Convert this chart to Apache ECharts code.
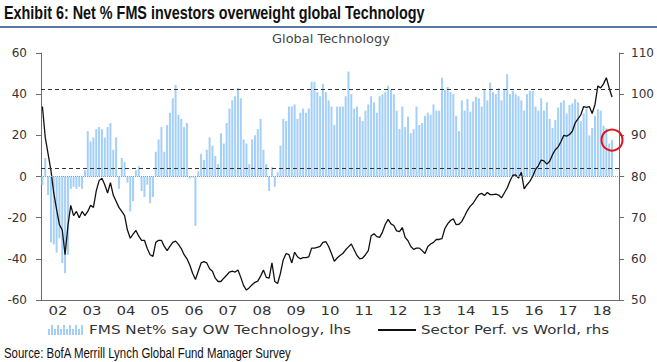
<!DOCTYPE html>
<html><head><meta charset="utf-8">
<script src="https://cdn.jsdelivr.net/npm/echarts@6/dist/echarts.min.js"></script>
<style>html,body{margin:0;padding:0;background:#fff}#c{width:657px;height:362px}</style>
</head><body><div id="c"></div>
<script>
// ---- data ----
const startYear = 2002;
const yearLabels = ['02','03','04','05','06','07','08','09','10','11','12','13','14','15','16','17','18'];
const barName = 'FMS Net% say OW Technology, lhs';
const lineName = 'Sector Perf. vs World, rhs';
// monthly FMS net % overweight (lhs), Jan-2002 onwards
const fmsNetOW = [
 -4, 9, -9, -32, -33, -37, -30, -42, -47, -38,
 -6, -5, -6, -5, -6, 3, 22, 17, 19, 23,
 24, 23, 19, 24, 26, 13, 19, -6, 9, 7,
 -3, -17, -12, 3, 5, -7, -10, -4, -13, -10,
 12, 18, 24, 12, 25, 31, 38, 44.5, 30, 28,
 24, 26, -1, -0.5, -24, 2.5, 11, 8, 13, 19,
 15, 10, 6, 21, 16, 26, 33, 37, 39, 43,
 38, 18, 16, 6, 18, 20, 23, 28, 13, 6,
 -7, 4.5, -5, 2, 15, 28, 27, 34, 34, 35,
 28, 31, 33, 31, 33, 46, 46, 41, 39, 45,
 41, 37, 34, 25, 34, 34, 34, 39, 51, 40,
 33, 34, 29, 27, 32, 35, 39, 36, 31, 39,
 40, 41, 44, 42, 40, 32, 23, 34, 24, 29,
 21, 23, 34, 25, 26, 29.5, 31, 30, 35, 32,
 32, 48, 42, 43.5, 41, 40, 29.5, 22, 37, 32,
 37.6, 31.5, 36.5, 38.7, 38, 34, 42, 37, 45.6, 41,
 40, 43, 37, 42, 49.7, 40, 41.6, 40, 39, 37,
 32, 40, 41.6, 41.6, 34, 32, 38, 32, 36, 28,
 23.5, 27.4, 33.5, 36, 37, 30.6, 34.7, 35.5, 37.6, 36,
 26.8, 30.6, 33, 20, 23.5, 29.5, 32.7, 32, 24.7, 23.4,
 16, 17.7
];
// sector relative performance vs world (rhs), monthly
const sectorPerf = [
 97, 89.5, 85.5, 81.5, 76, 72, 68.3, 67, 61, 68,
 73, 70.5, 71.5, 70, 71.5, 70.5, 71.5, 73, 72.5, 76.5,
 79, 79.6, 78, 76, 78.5, 75.5, 74, 72.5, 71.5, 70.5,
 67, 65, 66, 66.9, 65.5, 64.5, 64.5, 62.5, 61, 60.6,
 64, 64.5, 64.5, 63, 62, 63, 64, 64.3, 63.5, 62.5,
 61, 60, 58.5, 56.5, 55, 57, 59, 59.3, 59, 57.6,
 57, 55.3, 54.5, 54.5, 55.3, 56, 56.8, 57, 56.8, 57.3,
 55.5, 53.5, 52.4, 53, 53.7, 54.3, 54.6, 55.8, 57.3, 55.5,
 55.3, 59, 54.5, 54, 56.5, 59.8, 61.3, 61, 59, 61.6,
 60.5, 60, 60.3, 60.3, 60.5, 62.6, 62.6, 62.8, 63, 64,
 64.2, 63, 61.3, 59.4, 60.2, 60.8, 61.3, 62.2, 62.9, 63.6,
 62.2, 60.8, 60, 60.2, 61, 62, 65.6, 66.1, 65.4, 65.2,
 66.5, 68.4, 69.6, 68.5, 68.1, 66.8, 66.6, 67.6, 65.2, 64.4,
 63, 62.3, 62.6, 62.6, 62, 61.3, 63, 63.6, 64, 64.7,
 64.7, 64.9, 67.3, 68.5, 69.3, 69.7, 68.3, 68.4, 69.1, 70.4,
 71.8, 72.8, 73.5, 74.6, 75.6, 75.9, 75.4, 76.1, 75.6, 75.6,
 75.7, 75.5, 74.8, 76, 77.2, 78.9, 80.3, 80.4, 79.6, 81,
 77, 78, 78.8, 80, 81.7, 82.6, 84, 83.8, 83, 83.7,
 85.3, 86.5, 87.2, 88.5, 90, 89.8, 90.2, 91, 93, 94,
 95, 97, 96.8, 97, 95.3, 97.5, 102, 101.5, 102.5, 104,
 101.5, 99.3
];
const bandLines = [42.5, 4];   // dashed reference levels (lhs)
const leftTicks = {min: -60, max: 60, step: 20};
const rightTicks = {min: 50, max: 110, step: 10};
const titleText = 'Exhibit 6: Net % FMS investors overweight global Technology';
const subtitleText = 'Global Technology';
const sourceText = 'Source: BofA Merrill Lynch Global Fund Manager Survey';

// ---- build ----
const months = [];
for (let y = 0; y < yearLabels.length; y++) for (let m = 1; m <= 12; m++) months.push((startYear + y) + '-' + (m < 10 ? '0' : '') + m);
const lastIdx = fmsNetOW.length - 1;

let barIcon = 'path://';
for (let k = 0; k < 12; k++) { const h = k % 2 ? 10 : 6; barIcon += 'M' + (k * 3) + ',' + (10 - h) + 'h2v' + h + 'h-2z'; }

const FONT = 'DejaVu Sans';
const TITLE_FONT = 'bold 18px "Liberation Sans", Arial, sans-serif';
const SRC_FONT = '14px "Liberation Sans", Arial, sans-serif';
const SUB_FONT = '12px "DejaVu Sans"';
const mctx = document.createElement('canvas').getContext('2d');
function fitScale(font, text, target) { mctx.font = font; return target / mctx.measureText(text).width; }

const axisCol = '#6b6b6b';
const chart = echarts.init(document.getElementById('c'), null, {renderer: 'svg'});
chart.setOption({
  animation: false,
  backgroundColor: '#fff',
  grid: {left: 41, right: 36, top: 53, bottom: 62},
  xAxis: [
    {type: 'category', data: months, show: false, boundaryGap: true},
    {type: 'category', data: yearLabels, position: 'bottom', boundaryGap: true,
     axisLine: {lineStyle: {color: axisCol, width: 1}},
     axisTick: {length: 4, lineStyle: {color: axisCol}},
     axisLabel: {color: '#333', fontFamily: FONT, fontSize: 12, margin: 5}}
  ],
  yAxis: [
    {type: 'value', position: 'left', min: leftTicks.min, max: leftTicks.max, interval: leftTicks.step,
     axisLine: {show: true, lineStyle: {color: axisCol}}, axisTick: {show: true, length: 5, lineStyle: {color: axisCol}},
     splitLine: {show: false}, axisLabel: {color: '#333', fontFamily: FONT, fontSize: 12, margin: 14}},
    {type: 'value', position: 'right', min: rightTicks.min, max: rightTicks.max, interval: rightTicks.step,
     axisLine: {show: true, lineStyle: {color: axisCol}}, axisTick: {show: true, length: 5, lineStyle: {color: axisCol}},
     splitLine: {show: false}, axisLabel: {color: '#333', fontFamily: FONT, fontSize: 12, margin: 12}}
  ],
  legend: [
    {data: [{name: barName, icon: barIcon}], left: 43, top: 319, itemWidth: 37, itemHeight: 10,
     textStyle: {color: '#333', fontFamily: FONT, fontSize: 12}},
    {data: [{name: lineName, icon: 'rect'}], left: 373, top: 319, itemWidth: 38, itemHeight: 2,
     textStyle: {color: '#333', fontFamily: FONT, fontSize: 12}}
  ],
  series: [
    {name: barName, type: 'bar', xAxisIndex: 0, yAxisIndex: 0, data: fmsNetOW, barWidth: 2,
     itemStyle: {color: '#a3cff8'},
     markLine: {silent: true, symbol: 'none', label: {show: false},
       data: [
         {yAxis: 0, lineStyle: {type: 'dotted', color: '#9a9a9a', width: 1}},
         {yAxis: bandLines[0], lineStyle: {type: [4, 3], color: '#333', width: 1.2}},
         {yAxis: bandLines[1], lineStyle: {type: [4, 3], color: '#333', width: 1.2}}
       ]},
     markPoint: {silent: true, symbol: 'circle', symbolSize: 21, label: {show: false},
       itemStyle: {color: 'rgba(0,0,0,0)', borderColor: '#e3141c', borderWidth: 2},
       data: [{coord: [months[lastIdx], fmsNetOW[lastIdx]]}]}},
    {name: lineName, type: 'line', xAxisIndex: 0, yAxisIndex: 1, data: sectorPerf,
     showSymbol: false, symbol: 'none', itemStyle: {color: '#111'}, lineStyle: {color: '#111', width: 1.3}}
  ],
  graphic: [
    {type: 'text', x: 4, y: 3, scaleX: fitScale(TITLE_FONT, titleText, 421),
     style: {text: titleText, x: 0, y: 0, font: TITLE_FONT, fill: '#111', textVerticalAlign: 'top', verticalAlign: 'top'}},
    {type: 'rect', shape: {x: 0, y: 26, width: 657, height: 2}, style: {fill: '#5677a6'}},
    {type: 'text', x: 331, y: 39, scaleX: fitScale(SUB_FONT, subtitleText, 118),
     style: {text: subtitleText, x: 0, y: 0, font: SUB_FONT, fill: '#444',
      textAlign: 'center', textVerticalAlign: 'middle', align: 'center', verticalAlign: 'middle'}},
    {type: 'text', x: 4, y: 353, scaleX: fitScale(SRC_FONT, sourceText, 288),
     style: {text: sourceText, x: 0, y: 0, font: SRC_FONT, fill: '#111', textVerticalAlign: 'middle', verticalAlign: 'middle'}}
  ]
});

// stretch legend / year labels horizontally like the source artwork
const stretch = {};
stretch[barName] = 262; stretch[lineName] = 188;
function applyStretch() {
  document.querySelectorAll('#c svg text').forEach(t => {
    const s = t.textContent;
    if (stretch[s]) { t.setAttribute('textLength', stretch[s]); t.setAttribute('lengthAdjust', 'spacingAndGlyphs'); }
    else if (yearLabels.indexOf(s) >= 0) { t.setAttribute('textLength', 19); t.setAttribute('lengthAdjust', 'spacingAndGlyphs'); }
  });
}
chart.on('finished', applyStretch);
applyStretch();
setTimeout(applyStretch, 50);
</script></body></html>
